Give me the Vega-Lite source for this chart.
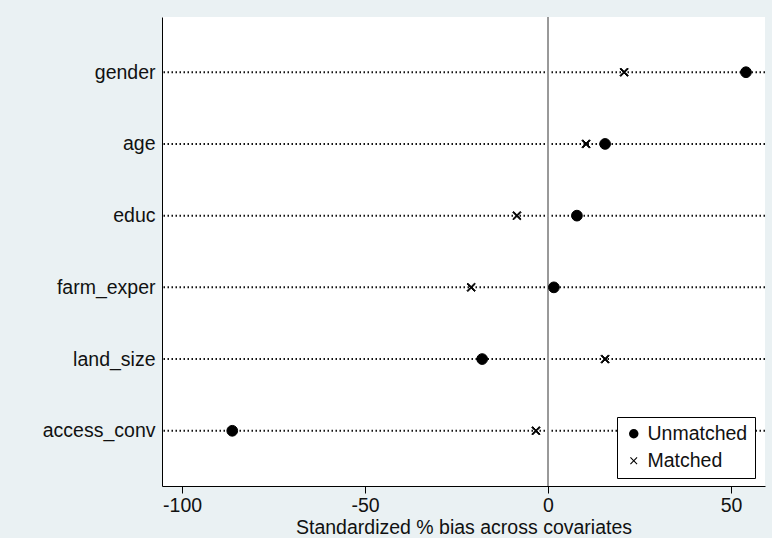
{
  "$schema": "https://vega.github.io/schema/vega-lite/v6.json",
  "width": 603,
  "height": 469,
  "autosize": "none",
  "padding": {"left": 162, "top": 17, "right": 7, "bottom": 52},
  "background": "#eaf1f3",
  "config": {
    "view": {"stroke": null, "fill": "white"},
    "font": "Liberation Sans",
    "axis": {"grid": false, "domainColor": "#000", "tickColor": "#000", "labelColor": "#111", "titleColor": "#111", "labelFont": "Liberation Sans", "titleFont": "Liberation Sans"}
  },
  "data": {
    "values": [
      {"variable": "gender", "sample": "Unmatched", "bias": 54.1},
      {"variable": "age", "sample": "Unmatched", "bias": 15.6},
      {"variable": "educ", "sample": "Unmatched", "bias": 7.9},
      {"variable": "farm_exper", "sample": "Unmatched", "bias": 1.6},
      {"variable": "land_size", "sample": "Unmatched", "bias": -18.0},
      {"variable": "access_conv", "sample": "Unmatched", "bias": -86.3},
      {"variable": "gender", "sample": "Matched", "bias": 20.8},
      {"variable": "age", "sample": "Matched", "bias": 10.4},
      {"variable": "educ", "sample": "Matched", "bias": -8.5},
      {"variable": "farm_exper", "sample": "Matched", "bias": -21.0},
      {"variable": "land_size", "sample": "Matched", "bias": 15.6},
      {"variable": "access_conv", "sample": "Matched", "bias": -3.3}
    ]
  },
  "encoding": {
    "y": {
      "field": "variable",
      "type": "nominal",
      "sort": ["gender", "age", "educ", "farm_exper", "land_size", "access_conv"],
      "scale": {"type": "point", "padding": 0.77},
      "axis": {"title": null, "ticks": false, "labelFontSize": 19.5, "labelPadding": 7, "domainWidth": 1}
    }
  },
  "layer": [
    {
      "transform": [{"filter": "datum.sample === 'Unmatched'"}],
      "mark": {"type": "rule", "color": "#111", "strokeWidth": 2, "strokeDash": [1.5, 2.5]},
      "encoding": {}
    },
    {
      "mark": {"type": "rule", "color": "#9a9a9a", "strokeWidth": 1.2},
      "encoding": {"x": {"datum": 0, "type": "quantitative"}, "y": null}
    },
    {
      "mark": {"type": "point", "filled": true, "color": "#000", "stroke": "#000", "strokeWidth": 1, "opacity": 1, "size": 115},
      "encoding": {
        "x": {
          "field": "bias",
          "type": "quantitative",
          "scale": {"domain": [-105.5, 59.3], "nice": false, "zero": false},
          "axis": {"values": [-100, -50, 0, 50], "labelExpr": "replace(datum.label, '−', '-')", "title": "Standardized % bias across covariates", "titleFontWeight": "normal", "titleFontSize": 19.5, "labelFontSize": 19.5, "tickSize": 7, "labelPadding": 3, "titlePadding": 4, "domainWidth": 1}
        },
        "shape": {
          "field": "sample",
          "type": "nominal",
          "scale": {"domain": ["Unmatched", "Matched"], "range": ["circle", "M-0.78,-0.62L-0.62,-0.78L0,-0.16L0.62,-0.78L0.78,-0.62L0.16,0L0.78,0.62L0.62,0.78L0,0.16L-0.62,0.78L-0.78,0.62L-0.16,0Z"]},
          "legend": {
            "title": null,
            "orient": "none",
            "legendX": 455,
            "legendY": 400,
            "fillColor": "white",
            "strokeColor": "#000",
            "padding": 7,
            "labelFontSize": 19.5,
            "labelColor": "#111",
            "symbolFillColor": "#000",
            "symbolStrokeColor": "#000",
            "symbolSize": 90,
            "symbolStrokeWidth": 1,
            "rowPadding": 6,
            "labelOffset": 4,
            "encode": {"symbols": {"update": {"stroke": {"value": "#000"}, "strokeWidth": {"value": 1}, "fill": {"value": "#000"}, "opacity": {"value": 1}}}}
          }
        }
      }
    }
  ]
}
